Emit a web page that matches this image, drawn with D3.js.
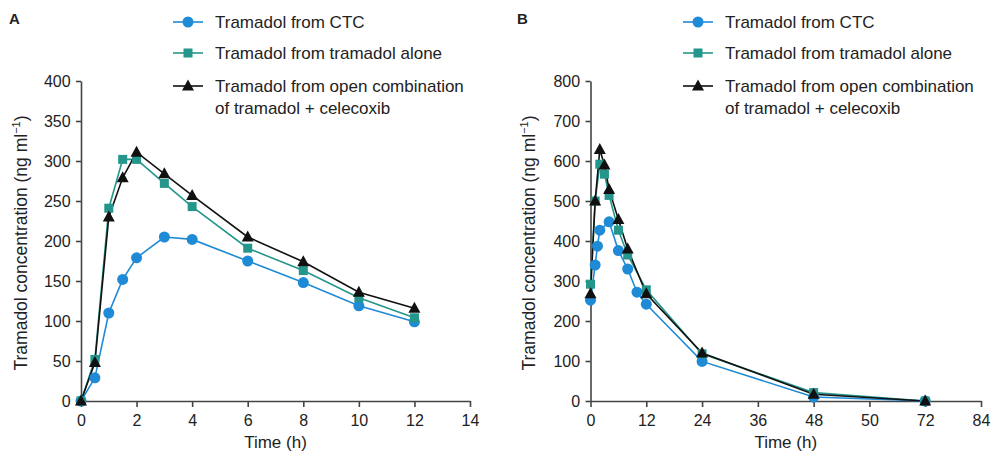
<!DOCTYPE html>
<html lang="en">
<head>
<meta charset="UTF-8">
<title>Tramadol concentration</title>
<script src="https://d3js.org/d3.v7.min.js"></script>
<style>
  * { margin: 0; padding: 0; box-sizing: border-box; }
  body { background: #fff; width: 991px; height: 454px; overflow: hidden; }
  svg text { font-family: "Liberation Sans", Arial, sans-serif; fill: #222; }
  .axis path, .axis line { stroke: #444; stroke-width: 1.6; }
  .axis text { font-size: 16px; fill: #222; }
</style>
</head>
<body>
<svg id="chart" width="991" height="454"></svg>
<script>
// panel A - single dose
var timeA = [0, 0.5, 1, 1.5, 2, 3, 4, 6, 8, 10, 12];
var ctcA = [0, 29, 110, 152, 179, 205, 202, 175, 148, 119, 99];
var aloneA = [0, 52, 241, 302, 302, 272, 243, 191, 163, 129, 104];
var openA = [0, 48, 230, 279, 311, 284, 257, 205, 174, 136, 116];

// panel B - steady state
var timeCtcB = [0, 1, 1.5, 2, 4, 6, 8, 10, 12, 24, 48, 72];
var ctcB = [252, 340, 387, 427, 448, 376, 330, 272, 242, 99, 10, 0];
var timeB = [0, 1, 2, 3, 4, 6, 8, 12, 24, 48, 72];
var aloneB = [292, 500, 592, 567, 514, 427, 365, 278, 118, 21, 0];
var openB = [268, 500, 629, 590, 529, 454, 380, 268, 120, 17, 0];

var ticksXA = [0, 2, 4, 6, 8, 10, 12, 14];
var ticksYA = [0, 50, 100, 150, 200, 250, 300, 350, 400];
var ticksXB = [0, 12, 24, 36, 48, 60, 72, 84];
var labelsXB = ["0", "12", "24", "36", "48", "50", "72", "84"];
var ticksYB = [0, 100, 200, 300, 400, 500, 600, 700, 800];

var seriesNames = ["Tramadol from CTC", "Tramadol from tramadol alone", "Tramadol from open combination", "of tramadol + celecoxib"];
var blue = "#1f8ad6", teal = "#25968c", black = "#111";

var svg = d3.select("#chart");

function marker(g, kind, color, x, y) {
  if (kind == "circle") {
    g.append("circle").attr("cx", x).attr("cy", y).attr("r", 5.5).attr("fill", color);
  } else if (kind == "square") {
    g.append("rect").attr("x", x - 4.5).attr("y", y - 4.5).attr("width", 9).attr("height", 9).attr("fill", color);
  } else {
    g.append("path").attr("d", "M" + x + "," + (y - 6.5) + "L" + (x + 6) + "," + (y + 4.5) + "L" + (x - 6) + "," + (y + 4.5) + "Z").attr("fill", color);
  }
}

function panel(opt) {
  var x = d3.scaleLinear().domain(opt.xdom).range(opt.xr);
  var y = d3.scaleLinear().domain(opt.ydom).range([401, 81]);

  var xa = svg.append("g").attr("class", "axis").attr("transform", "translate(0,401)")
    .call(d3.axisBottom(x).tickValues(opt.xt).tickSize(6).tickSizeOuter(0)
      .tickFormat(function(d, i) { return opt.xl ? opt.xl[i] : d; }));
  xa.selectAll("text").attr("dy", "1.0em");
  var ya = svg.append("g").attr("class", "axis").attr("transform", "translate(" + opt.xr[0] + ",0)")
    .call(d3.axisLeft(y).tickValues(opt.yt).tickSize(5).tickSizeOuter(0));
  ya.selectAll("text").attr("dx", "-0.15em");

  svg.append("text").attr("x", (opt.xr[0] + opt.xr[1]) / 2).attr("y", 448)
    .attr("text-anchor", "middle").style("font-size", "17px").text("Time (h)");
  svg.append("text").attr("transform", "translate(" + opt.ylx + ",243) rotate(-90)")
    .attr("text-anchor", "middle").style("font-size", "17.5px")
    .html("Tramadol concentration (ng ml<tspan dy='-7' style='font-size:11px'>\u22121</tspan><tspan dy='7'>)</tspan>");
  svg.append("text").attr("x", opt.lx).attr("y", 24).style("font-size", "15px").style("font-weight", "bold").text(opt.letter);

  var line = d3.line().x(function(d) { return x(d[0]); }).y(function(d) { return y(d[1]); });
  var g = svg.append("g");
  opt.series.forEach(function(s) {
    var pts = d3.zip(s.t, s.v);
    g.append("path").attr("d", line(pts)).attr("fill", "none").attr("stroke", s.color).attr("stroke-width", 1.6);
  });
  opt.series.forEach(function(s) {
    d3.zip(s.t, s.v).forEach(function(p) { marker(g, s.kind, s.color, x(p[0]), y(p[1])); });
  });

  // legend
  var lg = svg.append("g").attr("transform", "translate(" + opt.legx + ",0)");
  var rows = [22, 53, 86];
  opt.series.forEach(function(s, i) {
    lg.append("line").attr("x1", 0).attr("x2", 30).attr("y1", rows[i]).attr("y2", rows[i])
      .attr("stroke", s.color).attr("stroke-width", 1.6);
    marker(lg, s.kind, s.color, 15, rows[i]);
    lg.append("text").attr("x", 42).attr("y", rows[i] + 6).style("font-size", "17px").text(seriesNames[i]);
  });
  lg.append("text").attr("x", 42).attr("y", 114).style("font-size", "17px").text(seriesNames[3]);
}

panel({
  letter: "A", lx: 9, ylx: 27, legx: 173,
  xdom: [0, 14], xr: [81, 470], ydom: [0, 400], xt: ticksXA, yt: ticksYA,
  series: [
    { t: timeA, v: ctcA, color: blue, kind: "circle" },
    { t: timeA, v: aloneA, color: teal, kind: "square" },
    { t: timeA, v: openA, color: black, kind: "triangle" }
  ]
});

panel({
  letter: "B", lx: 517, ylx: 535, legx: 683,
  xdom: [0, 84], xr: [590.5, 981], ydom: [0, 800], xt: ticksXB, xl: labelsXB, yt: ticksYB,
  series: [
    { t: timeCtcB, v: ctcB, color: blue, kind: "circle" },
    { t: timeB, v: aloneB, color: teal, kind: "square" },
    { t: timeB, v: openB, color: black, kind: "triangle" }
  ]
});
</script>
</body>
</html>
